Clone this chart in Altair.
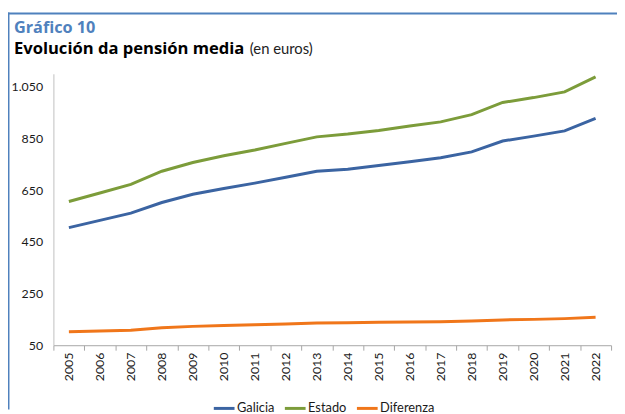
import altair as alt
import pandas as pd

# ---- data ----
years = ["2005", "2006", "2007", "2008", "2009", "2010", "2011", "2012", "2013",
         "2014", "2015", "2016", "2017", "2018", "2019", "2020", "2021", "2022"]
galicia = [505, 533, 561, 602, 634, 656, 677, 700, 723, 731, 745, 760, 775, 798, 840, 859, 879, 928]
estado = [606, 639, 672, 723, 757, 783, 805, 831, 856, 867, 881, 898, 914, 942, 989, 1008, 1030, 1088]
diferenza = [102, 105, 108, 118, 123, 126, 129, 132, 136, 137, 139, 140, 141, 144, 148, 150, 153, 158]
series_names = ["Galicia", "Estado", "Diferenza"]
series_colors = ["#3b64a2", "#7c9c3a", "#f0761a"]
y_ticks = [50, 250, 450, 650, 850, 1050]

title_text = "Gráfico 10"
subtitle_bold = "Evolución da pensión media"
subtitle_unit = "(en euros)"

rows = []
for name, vals in zip(series_names, [galicia, estado, diferenza]):
    for yr, v in zip(years, vals):
        rows.append({"year": yr, "serie": name, "value": v})
df = pd.DataFrame(rows)

FONT = "Lato"
TFONT = "Open Sans"

lines = alt.Chart(df).mark_line(strokeWidth=3).encode(
    x=alt.X(
        "year:O",
        sort=years,
        scale=alt.Scale(type="band", paddingInner=0, paddingOuter=0),
        axis=alt.Axis(
            title=None, labelAngle=-90, tickBand="extent", tickSize=5,
            tickColor="#a6a6a6", domainColor="#a6a6a6", labelPadding=2,
            labelFont=FONT, labelFontSize=12.5, labelColor="#1a1a1a", grid=False,
        ),
    ),
    y=alt.Y(
        "value:Q",
        scale=alt.Scale(domain=[50, 1100], nice=False, zero=False),
        axis=alt.Axis(
            title=None, values=y_ticks, grid=False, ticks=False, tickSize=0,
            labelPadding=11, domainColor="#bfbfbf",
            labelFont=FONT, labelFontSize=12.5, labelColor="#1a1a1a",
            labelExpr="replace(format(datum.value, ','), ',', '.')",
        ),
    ),
    color=alt.Color(
        "serie:N",
        sort=series_names,
        scale=alt.Scale(domain=series_names, range=series_colors),
        legend=alt.Legend(
            title=None, orient="none", legendX=161, legendY=327,
            direction="horizontal", symbolType="stroke", symbolStrokeWidth=3,
            symbolSize=441, labelOffset=1, columnPadding=4, padding=0,
            labelFont=FONT, labelFontSize=13, labelColor="#1a1a1a",
        ),
    ),
)


def text_layer(txt, x, y, size, weight, color, font):
    return alt.Chart(pd.DataFrame({"t": [txt]})).mark_text(
        align="left", baseline="alphabetic", font=font, fontSize=size,
        fontWeight=weight, color=color,
    ).encode(x=alt.value(x), y=alt.value(y), text="t:N")


t1 = text_layer(title_text, -40, -41, 16.5, "bold", "#4f81bd", TFONT)
t2 = text_layer(subtitle_bold, -40, -20, 16.8, "bold", "#000000", TFONT)
t3 = text_layer(subtitle_unit, 199, -20, 15, "normal", "#222222", FONT)

frame_df = pd.DataFrame({"a": [0]})
top_rule = alt.Chart(frame_df).mark_rule(color="#4f81bd", strokeWidth=2).encode(
    x=alt.value(-46), x2=alt.value(571), y=alt.value(-61)
)
left_rule = alt.Chart(frame_df).mark_rule(color="#4f81bd", strokeWidth=2).encode(
    x=alt.value(-45.5), y=alt.value(-62), y2=alt.value(340)
)

chart = alt.layer(lines, t1, t2, t3, top_rule, left_rule).properties(
    width=565, height=275,
    autosize=alt.AutoSizeParams(type="none"),
    padding={"left": 46, "top": 64, "right": 6, "bottom": 67},
).configure_view(stroke=None)

chart.save("out.html", embed_options={"renderer": "svg", "actions": False})
